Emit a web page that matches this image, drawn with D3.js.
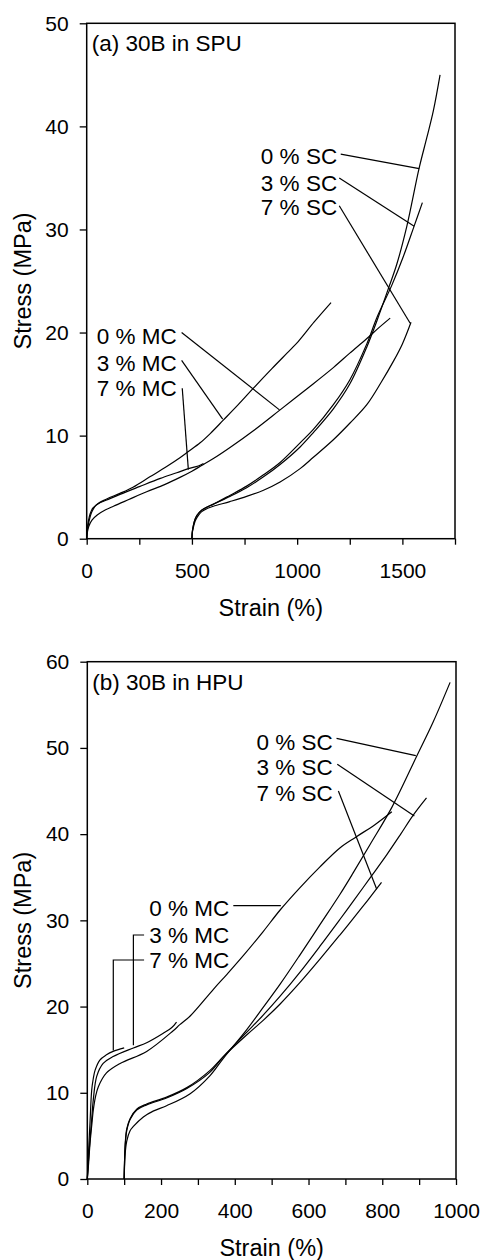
<!DOCTYPE html>
<html>
<head>
<meta charset="utf-8">
<script src="https://cdn.jsdelivr.net/npm/d3@7"></script>
<style>
body { margin: 0; background: #fff; }
text { font-family: "Liberation Sans", Arial, sans-serif; fill: #000; }
</style>
</head>
<body>
<svg id="chart" width="482" height="1260"></svg>
<script>
// ---- (a) 30B in SPU : [strain %, stress MPa]
const spuMC0 = [[0,0],[3,0.6],[10,1.2],[25,1.8],[50,2.3],[90,2.8],[127,3.15],[200,3.8],[285,4.55],[370,5.25],[443,5.95],[500,6.55],[546,7.1],[600,7.75],[681,8.85],[800,10.6],[919,12.5],[1050,14.6],[1172,16.6],[1250,18.0],[1330,19.4],[1390,20.5],[1442,21.4]];
const spuMC3 = [[0,0],[3,0.8],[8,1.4],[16,2.1],[24,2.6],[47,3.3],[95,3.85],[158,4.4],[220,5.0],[300,6.0],[380,7.0],[443,7.85],[483,8.45],[539,9.3],[587,10.2],[649,11.5],[720,13.0],[792,14.6],[880,16.5],[966,18.3],[1006,19.15],[1080,21.0],[1161,22.9]];
const spuMC7 = [[0,0],[3,1.0],[8,1.7],[16,2.4],[30,3.0],[55,3.4],[95,3.75],[158,4.3],[250,5.05],[350,5.85],[428,6.4],[483,6.8],[530,7.05],[555,7.3]];
const spuSC0 = [[500,0],[502,0.7],[507,1.3],[515,1.9],[525,2.3],[545,2.75],[575,3.1],[602,3.35],[680,4.1],[760,4.95],[840,6.0],[919,7.2],[1014,8.9],[1077,10.3],[1172,12.6],[1250,15.0],[1331,18.6],[1380,21.2],[1434,24.3],[1473,26.6],[1521,30.3],[1579,35.9],[1616,38.9],[1647,41.5],[1679,45.0]];
const spuSC3 = [[500,0],[502,0.7],[507,1.3],[515,1.9],[525,2.3],[545,2.75],[575,3.1],[602,3.35],[680,4.2],[760,5.1],[840,6.2],[919,7.4],[1014,9.3],[1077,10.6],[1172,13.0],[1250,15.4],[1331,18.9],[1380,21.5],[1450,24.6],[1505,27.4],[1557,30.4],[1595,32.6]];
const spuSC7 = [[500,0],[502,0.6],[507,1.1],[515,1.7],[525,2.1],[545,2.6],[575,2.95],[602,3.15],[680,3.6],[760,4.1],[840,4.7],[919,5.5],[1014,6.8],[1077,7.9],[1172,9.6],[1250,11.2],[1331,13.0],[1400,15.2],[1457,17.2],[1500,18.9],[1541,21.0]];
const spuXTicks = [0,250,500,750,1000,1250,1500,1750];
const spuXLabels = [0,500,1000,1500];
const spuYTicks = [0,10,20,30,40,50];
// label text: [text, right edge strain, centre stress]
const spuLabels = [["0 % SC",1190,37.1],["3 % SC",1190,34.55],["7 % SC",1190,32.2],
                   ["0 % MC",428,19.7],["3 % MC",428,17.1],["7 % MC",428,14.6]];
const spuLeaders = [[[1207,37.3],[1580,35.9]],[[1200,35.0],[1556,30.3]],[[1200,32.3],[1537,20.9]],
                    [[451,20.0],[916,12.5]],[[451,17.3],[646,11.6]],[[454,14.6],[483,6.7]]];

// ---- (b) 30B in HPU
const hpuMC0 = [[0,0],[3,1.5],[7.3,4.1],[12,6.2],[16.3,8.0],[22,9.5],[30,10.7],[52,12.3],[89,13.4],[161,14.8],[233,17.2],[251,17.9],[279,18.9],[342,22.0],[380,23.8],[423,25.9],[477,28.7],[523,31.2],[577,33.8],[631,36.2],[685,38.4],[730,39.7],[780,41.1],[826,42.6]];
const hpuMC3 = [[0,0],[3,2.0],[7.3,4.5],[12,7.0],[16.3,9.2],[25.5,11.9],[43,13.4],[70,14.2],[125,15.2],[161,15.8],[206,16.9],[230,17.6],[242,18.2]];
const hpuMC7 = [[0,0],[2.7,2.6],[7.3,6.5],[11.9,10.3],[16,11.6],[21,12.6],[34,13.8],[52,14.4],[70,14.8],[100,15.2]];
const hpuSC0 = [[100,0],[101,1.5],[102,2.6],[107,4.4],[116,5.6],[125,6.1],[152,7.2],[180,7.9],[215,8.5],[279,9.9],[333,12.0],[369,14.0],[432,17.3],[477,19.9],[523,22.6],[577,26.0],[631,29.5],[685,33.0],[721,35.5],[767,38.8],[826,43.1],[893,49.0],[938,53.0],[984,57.6]];
const hpuSC3 = [[100,0],[101,2.0],[103,4.0],[107,5.6],[116,6.9],[134,8.0],[161,8.6],[215,9.4],[270,10.5],[333,12.4],[369,14.2],[432,17.0],[477,19.0],[523,21.2],[577,24.0],[631,27.0],[685,30.1],[721,32.2],[770,35.1],[812,37.6],[850,40.0],[884,42.2],[920,44.2]];
const hpuSC7 = [[100,0],[101,2.0],[103,4.2],[107,5.8],[116,7.0],[134,8.1],[161,8.7],[215,9.5],[270,10.6],[333,12.6],[369,14.2],[432,16.7],[477,18.4],[523,20.3],[577,22.8],[631,25.5],[685,28.3],[721,30.2],[760,32.3],[798,34.4]];
const hpuXTicks = [0,100,200,300,400,500,600,700,800,900,1000];
const hpuXLabels = [0,200,400,600,800,1000];
const hpuYTicks = [0,10,20,30,40,50,60];
const hpuLabels = [["0 % SC",666,50.75],["3 % SC",666,47.8],["7 % SC",666,44.8],
                   ["0 % MC",385,31.4],["3 % MC",385,28.3],["7 % MC",385,25.4]];
const hpuLeaders = [[[676,51.1],[891,49.1]],[[678,48.1],[887,42.1]],[[681,45.0],[785,33.6]],
                    [[396,31.7],[525,31.7]],[[154,28.3],[125,28.3],[125,15.5]],[[154,25.4],[70.5,25.4],[70.5,14.9]]];

const svg = d3.select("#chart");
const TICK_FS = 21, LABEL_FS = 22.5, TITLE_FS = 23.5;

function drawPanel(p) {
	const x = d3.scaleLinear().domain(p.xDomain).range([p.left, p.right]);
	const y = d3.scaleLinear().domain(p.yDomain).range([p.bottom, p.top]);
	const g = svg.append("g");

	const line = d3.line().x(d => x(d[0])).y(d => y(d[1])).curve(d3.curveCatmullRom.alpha(0.5));
	g.selectAll("path.curve").data(p.curves).join("path")
		.attr("class", "curve")
		.attr("d", line)
		.attr("fill", "none").attr("stroke", "#000").attr("stroke-width", 1.2);

	// leader lines from the labels to their curves
	const lead = d3.line().x(d => x(d[0])).y(d => y(d[1]));
	g.selectAll("path.lead").data(p.leaders).join("path")
		.attr("class", "lead")
		.attr("d", lead)
		.attr("fill", "none").attr("stroke", "#000").attr("stroke-width", 1.2);

	g.selectAll("text.lbl").data(p.labels).join("text")
		.attr("class", "lbl")
		.attr("x", d => x(d[1])).attr("y", d => y(d[2]))
		.attr("dy", "0.36em")
		.attr("text-anchor", "end")
		.style("font-size", LABEL_FS + "px")
		.text(d => d[0]);

	// axes
	const xa = g.append("g").attr("transform", `translate(0,${p.bottom})`)
		.call(d3.axisBottom(x).tickValues(p.xTicks).tickSize(6).tickPadding(18)
			.tickFormat(d => p.xLabels.includes(d) ? d : ""));
	const ya = g.append("g").attr("transform", `translate(${p.left},0)`)
		.call(d3.axisLeft(y).tickValues(p.yTicks).tickSize(7).tickPadding(11));
	[xa, ya].forEach(a => {
		a.select(".domain").remove();
		a.selectAll("line").attr("stroke", "#000").attr("stroke-width", 1.3);
		a.selectAll("text").style("font-size", TICK_FS + "px").style("font-family", '"Liberation Sans", Arial, sans-serif');
	});

	g.append("rect")
		.attr("x", p.left).attr("y", p.top)
		.attr("width", p.right - p.left).attr("height", p.bottom - p.top)
		.attr("fill", "none").attr("stroke", "#000").attr("stroke-width", 1.5);

	g.append("text").attr("x", p.left + 5).attr("y", p.titleY)
		.style("font-size", LABEL_FS + "px").text(p.title);

	g.append("text")
		.attr("x", (p.left + p.right) / 2).attr("y", p.bottom + 77)
		.attr("text-anchor", "middle").style("font-size", TITLE_FS + "px")
		.text("Strain (%)");

	g.append("text")
		.attr("transform", `translate(31,${(p.top + p.bottom) / 2}) rotate(-90)`)
		.attr("text-anchor", "middle").style("font-size", TITLE_FS + "px")
		.text("Stress (MPa)");
}

drawPanel({
	left: 86.7, right: 455, top: 23.3, bottom: 538.7,
	xDomain: [0, 1750], yDomain: [0, 50],
	xTicks: spuXTicks, xLabels: spuXLabels, yTicks: spuYTicks,
	curves: [spuMC0, spuMC3, spuMC7, spuSC0, spuSC3, spuSC7],
	labels: spuLabels, leaders: spuLeaders,
	title: "(a) 30B in SPU", titleY: 51
});

drawPanel({
	left: 87.3, right: 456, top: 661.7, bottom: 1179,
	xDomain: [0, 1000], yDomain: [0, 60],
	xTicks: hpuXTicks, xLabels: hpuXLabels, yTicks: hpuYTicks,
	curves: [hpuMC0, hpuMC3, hpuMC7, hpuSC0, hpuSC3, hpuSC7],
	labels: hpuLabels, leaders: hpuLeaders,
	title: "(b) 30B in HPU", titleY: 690
});
</script>
</body>
</html>
